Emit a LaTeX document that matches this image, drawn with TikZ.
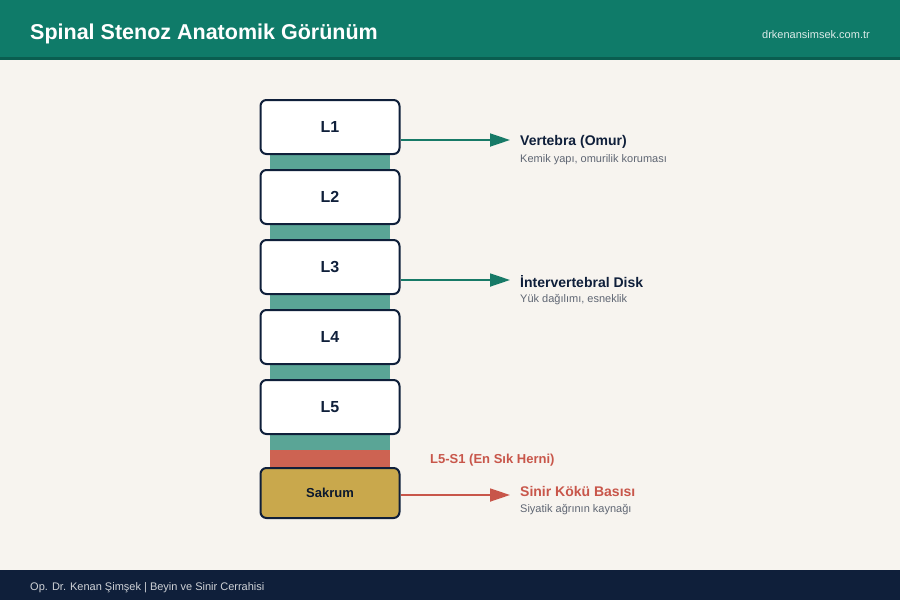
\documentclass[tikz,border=0pt]{standalone}
\usepackage{fontspec}
\setmainfont{Liberation Sans}
\usetikzlibrary{arrows.meta, positioning}

\definecolor{headteal}{HTML}{0F7B69}
\definecolor{headline}{HTML}{0A5E50}
\definecolor{bgcream}{HTML}{F7F4EF}
\definecolor{navy}{HTML}{0F1F3A}
\definecolor{disc}{HTML}{5AA596}
\definecolor{hernia}{HTML}{CD6352}
\definecolor{sacrum}{HTML}{C9A84C}
\definecolor{txtgray}{HTML}{5F6673}
\definecolor{arrteal}{HTML}{177A67}
\definecolor{arrred}{HTML}{C8564A}

\begin{document}
\begin{tikzpicture}[
    x=1pt, y=-1pt,
    vert/.style={rectangle, rounded corners=6pt, draw=navy, line width=2pt, fill=white,
                 minimum width=139pt, minimum height=54pt, font=\fontsize{16}{18}\selectfont\bfseries, text=navy},
    discbox/.style={rectangle, fill=disc, minimum width=120pt, minimum height=15pt, inner sep=0pt},
    lbl/.style={anchor=west, font=\fontsize{14}{16}\selectfont\bfseries, text=navy, inner sep=0pt},
    sublbl/.style={anchor=west, font=\fontsize{11}{13}\selectfont, text=txtgray, inner sep=0pt},
    arr/.style={-{Triangle[length=20pt, width=13pt]}, line width=1.8pt}
]
% Background, header and footer
\fill[bgcream] (0,0) rectangle (900,600);
\fill[headteal] (0,0) rectangle (900,58);
\fill[headline] (0,57) rectangle (900,60);
\fill[navy] (0,570) rectangle (900,600);
\node[anchor=west, text=white, font=\fontsize{21.5}{26}\selectfont\bfseries, inner sep=0pt] (title) at (30,33.5) {Spinal Stenoz Anatomik Görünüm};
\node[anchor=east, text=white!85!headteal, font=\fontsize{11}{13}\selectfont, inner sep=0pt] (web) at (870,35) {drkenansimsek.com.tr};
\node[anchor=west, text=white!80!navy, font=\fontsize{11}{13}\selectfont, inner sep=0pt] (foot) at (30,587.5) {Op. Dr. Kenan Şimşek | Beyin ve Sinir Cerrahisi};

% Discs
\node[discbox] (d12) at (330,162) {};
\node[discbox] (d23) at (330,232) {};
\node[discbox] (d34) at (330,302) {};
\node[discbox] (d45) at (330,372) {};
\node[discbox] (d5a) at (330,442.5) {};
\node[discbox, fill=hernia, minimum height=17pt] (d5s) at (330,458.5) {};

% Vertebrae
\node[vert] (L1) at (330,127) {L1};
\node[vert] (L2) at (330,197) {L2};
\node[vert] (L3) at (330,267) {L3};
\node[vert] (L4) at (330,337) {L4};
\node[vert] (L5) at (330,407) {L5};
\node[vert, fill=sacrum, minimum height=50pt, font=\fontsize{13}{15}\selectfont\bfseries, text=navy!80!black] (S) at (330,493) {Sakrum};

% Labels
\coordinate (a1) at (510,140);
\coordinate (a3) at (510,280);
\coordinate (a6) at (510,495);
\node[lbl] (vl) at (520,141.5) {Vertebra (Omur)};
\node[sublbl] (vs) at (520,159.5) {Kemik yapı, omurilik koruması};
\node[lbl] (dl) at (520,281.5) {İntervertebral Disk};
\node[sublbl] (ds) at (520,299.5) {Yük dağılımı, esneklik};
\node[lbl, text=arrred] (nl) at (520,491.5) {Sinir Kökü Basısı};
\node[sublbl] (ns) at (520,509.5) {Siyatik ağrının kaynağı};
\node[lbl, text=arrred, font=\fontsize{13}{15}\selectfont\bfseries] (hl) at (430,460) {L5-S1 (En Sık Herni)};

% Arrows
\draw[arr, arrteal] (L1.east |- a1) -- (a1);
\draw[arr, arrteal] (L3.east |- a3) -- (a3);
\draw[arr, arrred] (S.east |- a6) -- (a6);
\end{tikzpicture}
\end{document}
